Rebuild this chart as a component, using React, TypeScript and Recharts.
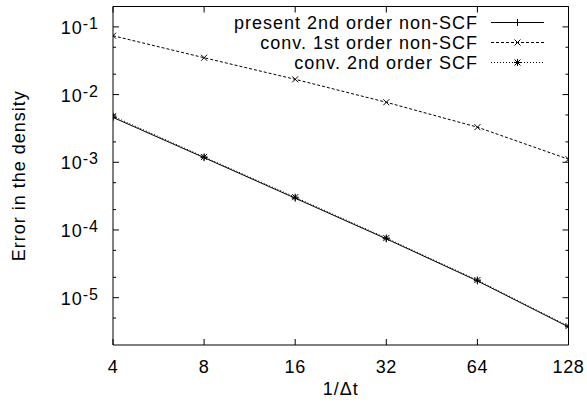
import { LineChart, Line, XAxis, YAxis, ReferenceArea, Legend } from 'recharts';

// 1/dt values (log2 axis)
const X_VALUES = [4, 8, 16, 32, 64, 128];

// error in the density for each scheme
const PRESENT_2ND = [4.6e-3, 1.17e-3, 2.95e-4, 7.4e-5, 1.77e-5, 3.7e-6];
const CONV_1ST = [7.4e-2, 3.5e-2, 1.68e-2, 7.7e-3, 3.3e-3, 1.11e-3];
const CONV_2ND_SCF = [4.8e-3, 1.2e-3, 3.05e-4, 7.6e-5, 1.82e-5, 3.8e-6];

const Y_MAJOR = [1e-5, 1e-4, 1e-3, 1e-2, 1e-1];
const Y_MINOR = [5e-6, 2e-5, 5e-5, 2e-4, 5e-4, 2e-3, 5e-3, 2e-2, 5e-2];

const W = 587;
const H = 404;
const MARGIN = { top: 6.5, right: 18.5, bottom: 0, left: 0 };
const Y_AXIS_W = 113;
const X_AXIS_H = 59;
const PLOT_LEFT = MARGIN.left + Y_AXIS_W;
const PLOT_RIGHT = W - MARGIN.right;
const PLOT_TOP = MARGIN.top;
const PLOT_BOTTOM = H - X_AXIS_H;
const FONT = '"Liberation Sans", Arial, Helvetica, sans-serif';

const data = X_VALUES.map((x, i) => ({
  x,
  present: PRESENT_2ND[i],
  conv1: CONV_1ST[i],
  scf: CONV_2ND_SCF[i],
}));

type Marker = 'plus' | 'cross' | 'star';

const SERIES: { key: string; name: string; dash?: string; marker: Marker }[] = [
  { key: 'present', name: 'present 2nd order non-SCF', marker: 'plus' },
  { key: 'conv1', name: 'conv. 1st order non-SCF', dash: '3 2', marker: 'cross' },
  { key: 'scf', name: 'conv. 2nd order SCF', dash: '1 2', marker: 'star' },
];

function markerPath(m: Marker, cx: number, cy: number) {
  const plus = `M${cx - 3.5},${cy}H${cx + 3.5}M${cx},${cy - 3.5}V${cy + 3.5}`;
  const cross = `M${cx - 3},${cy - 3}L${cx + 3},${cy + 3}M${cx - 3},${cy + 3}L${cx + 3},${cy - 3}`;
  if (m === 'plus') return plus;
  if (m === 'cross') return cross;
  return plus + cross;
}

const makeDot = (m: Marker) => (p: any) => (
  <path key={`${m}-${p.index}`} d={markerPath(m, p.cx, p.cy)} stroke="#000" strokeWidth={1} fill="none" />
);

function XTick({ x, payload }: any) {
  return (
    <g>
      <line x1={x} x2={x} y1={PLOT_BOTTOM} y2={PLOT_BOTTOM - 6} stroke="#000" />
      <line x1={x} x2={x} y1={PLOT_TOP} y2={PLOT_TOP + 6} stroke="#000" />
      <text x={x} y={373} textAnchor="middle" fontSize={18} letterSpacing={0.6} fontFamily={FONT} fill="#000">
        {payload.value}
      </text>
    </g>
  );
}

function YTick({ y, payload }: any) {
  const lg = Math.log10(payload.value);
  const exp = Math.round(lg);
  const major = Math.abs(lg - exp) < 1e-6;
  const len = major ? 6 : 3;
  return (
    <g>
      <line x1={PLOT_LEFT} x2={PLOT_LEFT + len} y1={y} y2={y} stroke="#000" />
      <line x1={PLOT_RIGHT} x2={PLOT_RIGHT - len} y1={y} y2={y} stroke="#000" />
      {major && (
        <text x={PLOT_LEFT - 14} y={y + 7} textAnchor="end" fontSize={18} letterSpacing={1} fontFamily={FONT} fill="#000">
          10
          <tspan dy={-5} fontSize={16}>
            {`${exp}`}
          </tspan>
        </text>
      )}
    </g>
  );
}

function LegendBox() {
  return (
    <svg width={W} height={75} style={{ display: 'block' }}>
      {SERIES.map((s, i) => {
        const cy = 22.5 + i * 20;
        return (
          <g key={s.key}>
            <text x={478} y={cy + 6.5} textAnchor="end" fontSize={18} letterSpacing={1} fontFamily={FONT} fill="#000">
              {s.name}
            </text>
            <line x1={491} x2={544} y1={cy} y2={cy} stroke="#000" strokeDasharray={s.dash} />
            <path d={markerPath(s.marker, 517.5, cy)} stroke="#000" fill="none" />
          </g>
        );
      })}
    </svg>
  );
}

export default function App() {
  return (
    <div style={{ position: 'absolute', left: 0, top: 0, background: '#fff' }}>
      <style>{'body{margin:0}'}</style>
      <LineChart width={W} height={H} data={data} margin={MARGIN}>
        <XAxis
          dataKey="x"
          type="number"
          scale="log"
          domain={[4, 128]}
          ticks={X_VALUES}
          interval={0}
          height={X_AXIS_H}
          axisLine={false}
          tickLine={false}
          tick={<XTick />}
          allowDataOverflow
          label={(p: any) => {
            const vb = p.viewBox;
            return (
              <text x={vb.x + vb.width / 2} y={vb.y + 50} textAnchor="middle" fontSize={18} letterSpacing={1} fontFamily={FONT} fill="#000">
                1/Δt
              </text>
            );
          }}
        />
        <YAxis
          type="number"
          scale="log"
          domain={[2e-6, 0.2]}
          ticks={[...Y_MINOR, ...Y_MAJOR].sort((a, b) => a - b)}
          interval={0}
          width={Y_AXIS_W}
          axisLine={false}
          tickLine={false}
          tick={<YTick />}
          allowDataOverflow
          label={(p: any) => {
            const vb = p.viewBox;
            const cx = vb.x + 25;
            const cy = vb.y + vb.height / 2;
            return (
              <text x={cx} y={cy} transform={`rotate(-90 ${cx} ${cy})`} textAnchor="middle" fontSize={18} letterSpacing={1} fontFamily={FONT} fill="#000">
                Error in the density
              </text>
            );
          }}
        />
        <ReferenceArea x1={4} x2={128} y1={2e-6} y2={0.2} fill="none" stroke="#000" strokeWidth={1} ifOverflow="visible" />
        {SERIES.map((s) => (
          <Line
            key={s.key}
            dataKey={s.key}
            name={s.name}
            stroke="#000"
            strokeWidth={1}
            strokeDasharray={s.dash}
            dot={makeDot(s.marker)}
            activeDot={false}
            isAnimationActive={false}
            type="linear"
          />
        ))}
        <Legend
          layout="horizontal"
          verticalAlign="middle"
          align="center"
          content={<LegendBox />}
          wrapperStyle={{ position: 'absolute', left: 0, top: 0, width: W, height: 75 }}
        />
      </LineChart>
    </div>
  );
}
